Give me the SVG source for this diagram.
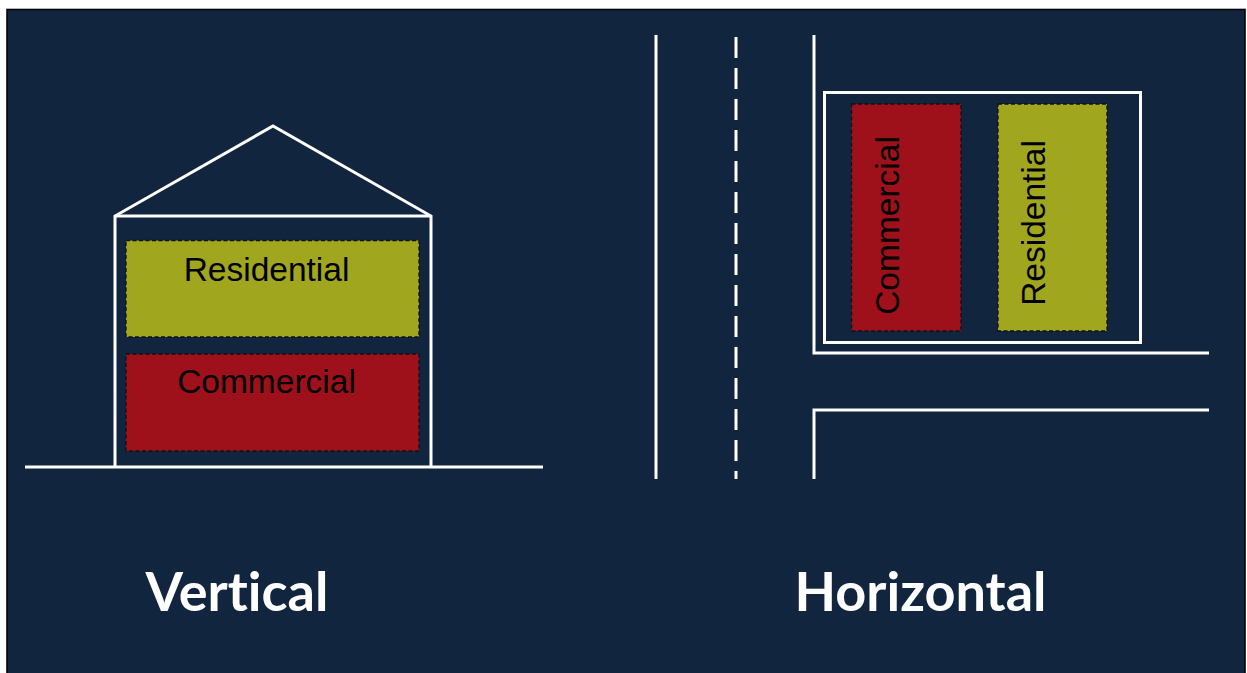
<svg xmlns="http://www.w3.org/2000/svg" width="1247" height="673" viewBox="0 0 1247 673">
<style>
.line{fill:none;stroke:#ffffff;stroke-width:3;stroke-linejoin:miter}
.zone{stroke:#111111;stroke-width:1.3;stroke-dasharray:4 2.5}
.res{fill:#a0a61e}
.com{fill:#9e111b}
.zt{font-family:"Liberation Sans",Arial,sans-serif;font-size:33.5px;fill:#000000;text-anchor:middle}
.title{font-family:Lato,"Open Sans",sans-serif;font-weight:bold;font-size:54px;fill:#ffffff;text-anchor:middle;font-variant-ligatures:none}
</style>
<rect x="0" y="0" width="1247" height="673" fill="#ffffff"/>
<rect id="background" x="7" y="9.5" width="1238" height="670" fill="#12253f" stroke="#050505" stroke-width="1.6"/>
<g id="connectors">
  <polyline class="line" points="115,467 115,216 273,126 431,216 431,467"/>
  <line class="line" x1="115" y1="216" x2="431" y2="216"/>
  <line class="line" x1="25" y1="467" x2="543" y2="467"/>
  <line class="line" x1="656" y1="35" x2="656" y2="479"/>
  <line class="line" x1="736" y1="37" x2="736" y2="479" stroke-dasharray="21 10"/>
  <polyline class="line" points="814,35 814,353 1209,353"/>
  <polyline class="line" points="814,479 814,410 1209,410"/>
</g>
<g id="lot">
  <rect class="line" x="824.5" y="92.5" width="316" height="250"/>
</g>
<g id="vertical-residential">
  <rect class="zone res" x="126" y="240.5" width="293" height="96.5"/>
  <text class="zt" x="266.5" y="281">Residential</text>
</g>
<g id="vertical-commercial">
  <rect class="zone com" x="126" y="354" width="293" height="97"/>
  <text class="zt" x="266.5" y="393">Commercial</text>
</g>
<g id="horizontal-commercial">
  <rect class="zone com" x="851.5" y="104" width="109.5" height="227"/>
  <text class="zt" x="0" y="0" transform="translate(899,225.5) rotate(-90)">Commercial</text>
</g>
<g id="horizontal-residential">
  <rect class="zone res" x="998" y="104" width="109" height="227"/>
  <text class="zt" x="0" y="0" transform="translate(1045,223) rotate(-90)">Residential</text>
</g>
<g id="label-vertical">
  <text class="title" x="237" y="611">Vertical</text>
</g>
<g id="label-horizontal">
  <text class="title" x="920.5" y="611">Horizontal</text>
</g>
</svg>
